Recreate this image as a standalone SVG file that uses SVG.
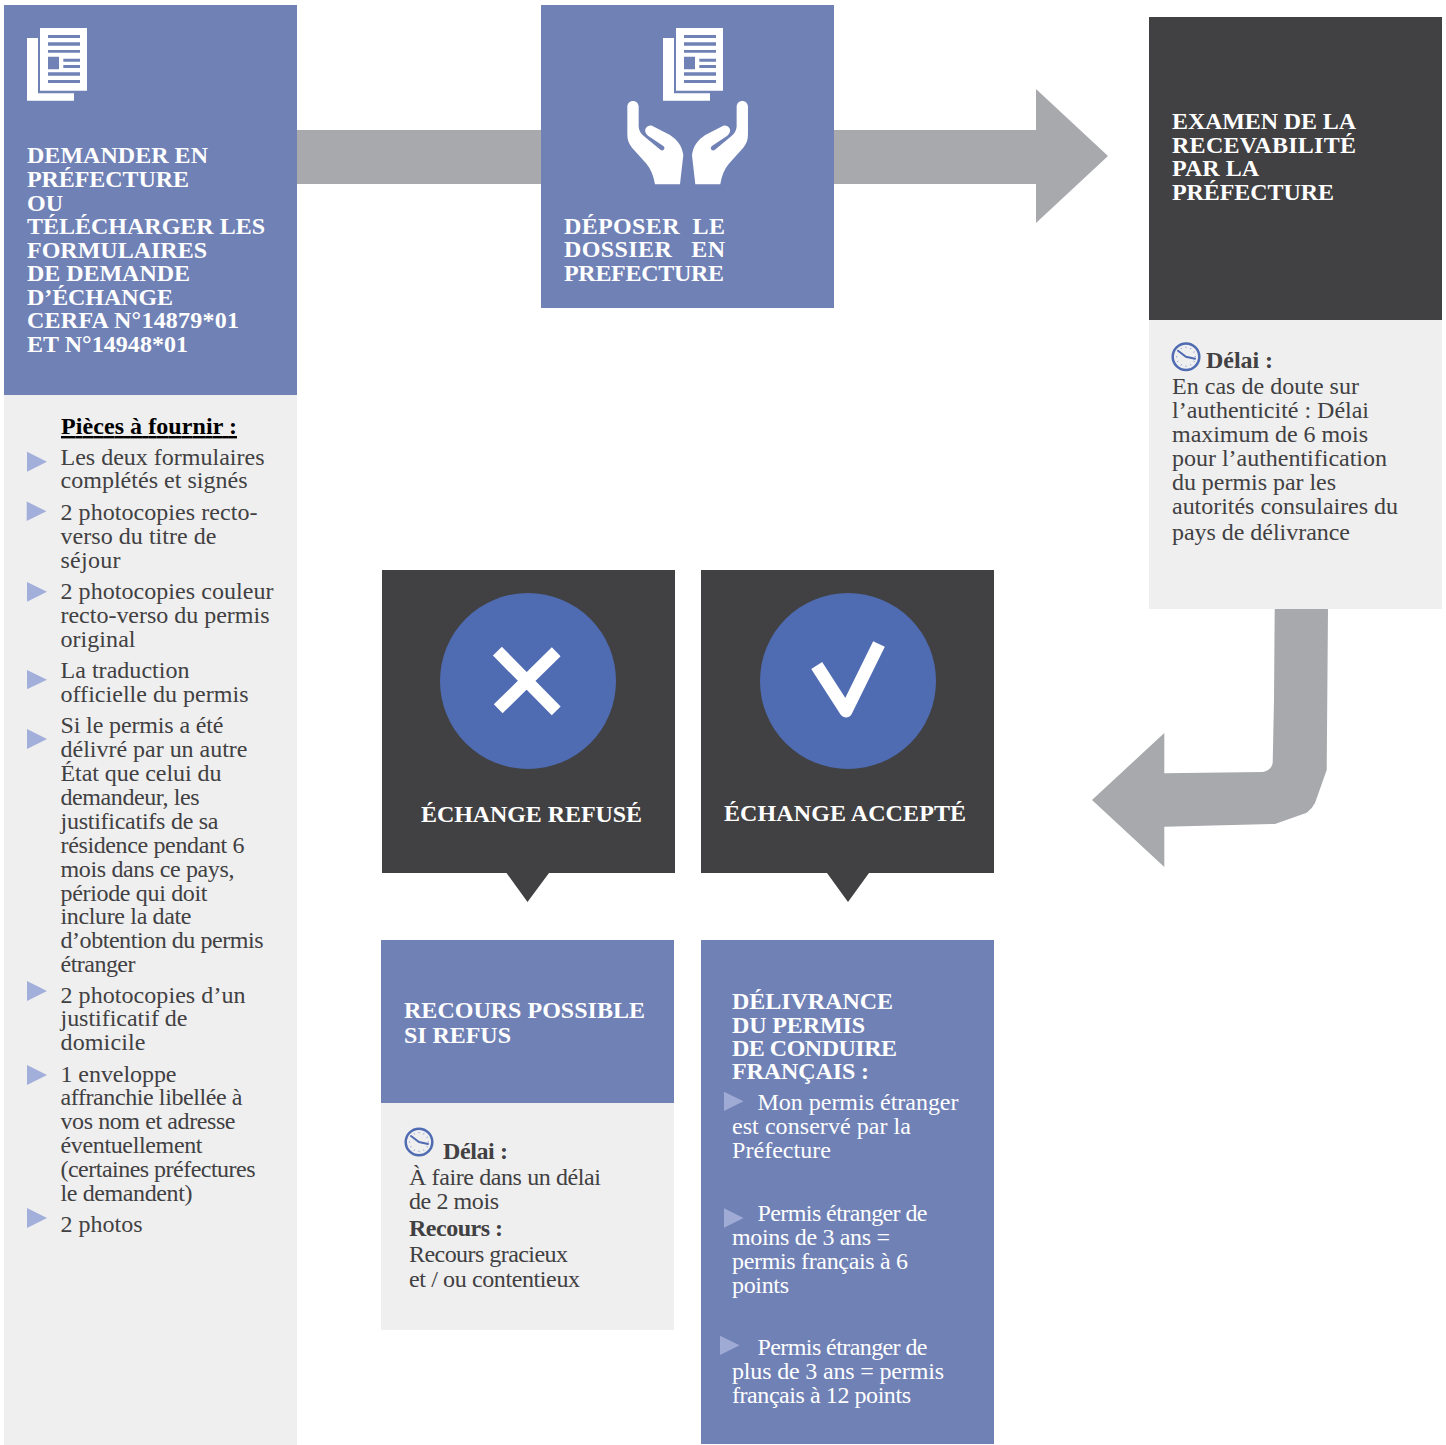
<svg xmlns="http://www.w3.org/2000/svg" width="1446" height="1445" viewBox="0 0 1446 1445">
<style>
text{font-family:"Liberation Serif","Times New Roman",serif;font-size:24px;fill:#414042;white-space:pre}
.h{font-weight:700;fill:#fff}
.w{fill:#fff}
.b{font-weight:700}
.blue{fill:#7081b6}
.dark{fill:#414042}
.light{fill:#efefef}
.arrow{fill:#a7a9ac}
.tri{fill:#a3afdb}
.tw{fill:#a0abd5}
.clock{fill:none;stroke:#4f6bb2;stroke-width:2.500}
.mark{fill:none;stroke:#fff;stroke-width:12.500}
</style>
<defs>
<g id="doc">
<path fill="#fff" d="M27 38H38V93.300H74V100.700H27Z"/>
<path fill="#fff" d="M40 28H87V90.700H40Z"/>
<path fill="#7081b6" d="M48 35H80V38H48ZM48 42.300H80V45.700H48ZM48 50H80V52.700H48ZM48 56.700H59V69.300H48ZM63.300 58.700H80V61.700H63.300ZM63.300 65H80V68H63.300ZM48 72.300H80V75.700H48ZM48 80H80V83H48Z"/>
</g>
<path id="hand" fill="#fff" transform="translate(620 95) scale(.33333)" d="M22 36C22 12 56 12 56 36L56 95C57 108 64 118 74 125L122 165C130 170 138 160 130 153L84 122C68 110 76 90 96 92L150 120C172 135 185 150 190 180L180 268H105C100 240 92 222 78 205L36 158C26 146 22 135 22 118Z"/>
<g id="clk">
<circle class="clock" cx="0" cy="0" r="13.300"/>
<path class="clock" stroke-width="2" d="M-8 -6L0 0L9 2" stroke-linecap="round" style="stroke-width:2"/>
<path class="clock" d="M0 -10V-8.800M0 8.800V10M-10 0H-8.800M8.800 0H10M5 -8.700L4.400 -7.600M-5 8.700L-4.400 7.600M5 8.700L4.400 7.600M-5 -8.700L-4.400 -7.600M8.700 5L7.600 4.400M-8.700 5L-7.600 4.400M8.700 -5L7.600 -4.400" style="stroke-width:1;stroke:#8297cc"/>
</g>
</defs>
<g id="connectors">
<path class="arrow" d="M297 130H1036V89L1108 156L1036 223V184H297Z"/>
<path class="arrow" d="M1274.700 609L1274 700L1272.700 763Q1271.500 770 1263 772L1164.300 773.300V733L1092 800L1164.300 867V826.700L1275 824L1306.700 812.700Q1312 809 1315 803L1326.700 770L1328 609Z"/>
</g>
<g id="node-demander">
<rect class="blue" x="4" y="5" width="293" height="390"/>
<use href="#doc"/>
<text class="h" x="27" y="163" textLength="181">DEMANDER EN</text>
<text class="h" x="27" y="187" textLength="162">PRÉFECTURE</text>
<text class="h" x="27" y="211" textLength="36">OU</text>
<text class="h" x="27" y="234" textLength="238">TÉLÉCHARGER LES</text>
<text class="h" x="27" y="258" textLength="180">FORMULAIRES</text>
<text class="h" x="27" y="281" textLength="163">DE DEMANDE</text>
<text class="h" x="27" y="305" textLength="146">D’ÉCHANGE</text>
<text class="h" x="27" y="328" textLength="212">CERFA N°14879*01</text>
<text class="h" x="27" y="352" textLength="161">ET N°14948*01</text>
</g>
<g id="node-pieces">
<rect class="light" x="4" y="395" width="293" height="1050"/>
<text class="b" x="61" y="434" style="fill:#000;text-decoration:underline;text-decoration-thickness:2.500px" textLength="176">Pièces à fournir :</text>
<path class="tri" d="M27 451.700L47 461.700L27 471.700ZM26.700 501.500L46.500 511.300L26.700 521ZM27 582L47 591.800L27 601.700ZM27 670L47 679.700L27 689.300ZM27 729L47 739L27 749ZM27 981L47 991L27 1001ZM27 1065L47 1075L27 1085ZM27 1208L47 1218L27 1228Z"/>
<text x="60.500" y="465" textLength="204">Les deux formulaires</text>
<text x="60.500" y="488" textLength="187">complétés et signés</text>
<text x="60.500" y="520" textLength="197">2 photocopies recto-</text>
<text x="60.500" y="544" textLength="156">verso du titre de</text>
<text x="60.500" y="568" textLength="60">séjour</text>
<text x="60.500" y="599" textLength="213">2 photocopies couleur</text>
<text x="60.500" y="623" textLength="209">recto-verso du permis</text>
<text x="60.500" y="647" textLength="75">original</text>
<text x="60.500" y="678" textLength="129">La traduction</text>
<text x="60.500" y="702" textLength="188">officielle du permis</text>
<text x="60.500" y="733" textLength="163">Si le permis a été</text>
<text x="60.500" y="757" textLength="187">délivré par un autre</text>
<text x="60.500" y="781" textLength="161">État que celui du</text>
<text x="60.500" y="805" textLength="139">demandeur, les</text>
<text x="60.500" y="829" textLength="158">justificatifs de sa</text>
<text x="60.500" y="853" textLength="184">résidence pendant 6</text>
<text x="60.500" y="877" textLength="174">mois dans ce pays,</text>
<text x="60.500" y="901" textLength="147">période qui doit</text>
<text x="60.500" y="924" textLength="131">inclure la date</text>
<text x="60.500" y="948" textLength="203">d’obtention du permis</text>
<text x="60.500" y="972" textLength="75">étranger</text>
<text x="60.500" y="1003" textLength="185">2 photocopies d’un</text>
<text x="60.500" y="1026" textLength="127">justificatif de</text>
<text x="60.500" y="1050" textLength="85">domicile</text>
<text x="60.500" y="1082" textLength="116">1 enveloppe</text>
<text x="60.500" y="1105" textLength="182">affranchie libellée à</text>
<text x="60.500" y="1129" textLength="175">vos nom et adresse</text>
<text x="60.500" y="1153" textLength="142">éventuellement</text>
<text x="60.500" y="1177" textLength="195">(certaines préfectures</text>
<text x="60.500" y="1201" textLength="132">le demandent)</text>
<text x="60.500" y="1232" textLength="82">2 photos</text>
</g>
<g id="node-deposer">
<rect class="blue" x="541" y="5" width="293" height="303"/>
<use href="#doc" x="636"/>
<use href="#hand"/>
<use href="#hand" transform="matrix(-1 0 0 1 1375.300 0)"/>
<text class="h" x="564" y="234" textLength="161">DÉPOSER  LE</text>
<text class="h" x="564" y="257" textLength="161">DOSSIER   EN</text>
<text class="h" x="564" y="281" textLength="160">PREFECTURE</text>
</g>
<g id="node-examen">
<rect class="dark" x="1149" y="17" width="293" height="303"/>
<text class="h" x="1172" y="129" textLength="184">EXAMEN DE LA</text>
<text class="h" x="1172" y="153" textLength="184">RECEVABILITÉ</text>
<text class="h" x="1172" y="176" textLength="87">PAR LA</text>
<text class="h" x="1172" y="200" textLength="162">PRÉFECTURE</text>
<rect class="light" x="1149" y="320" width="293" height="289"/>
<use href="#clk" x="1186" y="356.700"/>
<text class="b" x="1206" y="368" textLength="67">Délai :</text>
<text x="1172" y="394" textLength="187">En cas de doute sur</text>
<text x="1172" y="418" textLength="197">l’authenticité : Délai</text>
<text x="1172" y="442" textLength="196">maximum de 6 mois</text>
<text x="1172" y="466" textLength="215">pour l’authentification</text>
<text x="1172" y="490" textLength="164">du permis par les</text>
<text x="1172" y="514" textLength="226">autorités consulaires du</text>
<text x="1172" y="540" textLength="178">pays de délivrance</text>
</g>
<g id="node-refuse">
<path class="dark" d="M382 570H675V873H549L527.500 902L506.500 873H382Z"/>
<circle cx="528" cy="681" r="88" fill="#4f6bb2"/>
<path class="mark" d="M497.400 651.200L556.200 710.900M556.200 651.700L498.200 708.800"/>
<text class="h" x="421" y="822" textLength="221">ÉCHANGE REFUSÉ</text>
</g>
<g id="node-accepte">
<path class="dark" d="M701 570H994V873H869L848 902L827 873H701Z"/>
<circle cx="848" cy="681" r="88" fill="#4f6bb2"/>
<path class="mark" stroke-linejoin="round" style="stroke-width:13" d="M816.700 665.500L846 711L879 644"/>
<text class="h" x="724" y="821" textLength="242">ÉCHANGE ACCEPTÉ</text>
</g>
<g id="node-recours">
<rect class="blue" x="381" y="940" width="293" height="163"/>
<text class="h" x="404" y="1018" textLength="241">RECOURS POSSIBLE</text>
<text class="h" x="404" y="1043" textLength="107">SI REFUS</text>
<rect class="light" x="381" y="1103" width="293" height="227"/>
<use href="#clk" x="419" y="1142"/>
<text class="b" x="443" y="1159" textLength="65">Délai :</text>
<text x="409" y="1185" textLength="192">À faire dans un délai</text>
<text x="409" y="1209" textLength="90">de 2 mois</text>
<text class="b" x="409" y="1236" textLength="94">Recours :</text>
<text x="409" y="1262" textLength="159">Recours gracieux</text>
<text x="409" y="1287" textLength="171">et / ou contentieux</text>
</g>
<g id="node-delivrance">
<rect class="blue" x="701" y="940" width="293" height="504"/>
<text class="h" x="732" y="1009" textLength="161">DÉLIVRANCE</text>
<text class="h" x="732" y="1033" textLength="133">DU PERMIS</text>
<text class="h" x="732" y="1056" textLength="165">DE CONDUIRE</text>
<text class="h" x="732" y="1079" textLength="137">FRANÇAIS :</text>
<path class="tw" d="M724 1091.700L743.500 1101.300L724 1111ZM724 1208.300L743.500 1218L724 1227.700ZM720 1335.700L739.500 1345.300L720 1355Z"/>
<text class="w" x="757.500" y="1110" textLength="201">Mon permis étranger</text>
<text class="w" x="732" y="1134" textLength="179">est conservé par la</text>
<text class="w" x="732" y="1158" textLength="99">Préfecture</text>
<text class="w" x="757.500" y="1221" textLength="170">Permis étranger de</text>
<text class="w" x="732" y="1245" textLength="158">moins de 3 ans =</text>
<text class="w" x="732" y="1269" textLength="176">permis français à 6</text>
<text class="w" x="732" y="1293" textLength="57">points</text>
<text class="w" x="757.500" y="1355" textLength="170">Permis étranger de</text>
<text class="w" x="732" y="1379" textLength="212">plus de 3 ans = permis</text>
<text class="w" x="732" y="1403" textLength="179">français à 12 points</text>
</g>
</svg>
